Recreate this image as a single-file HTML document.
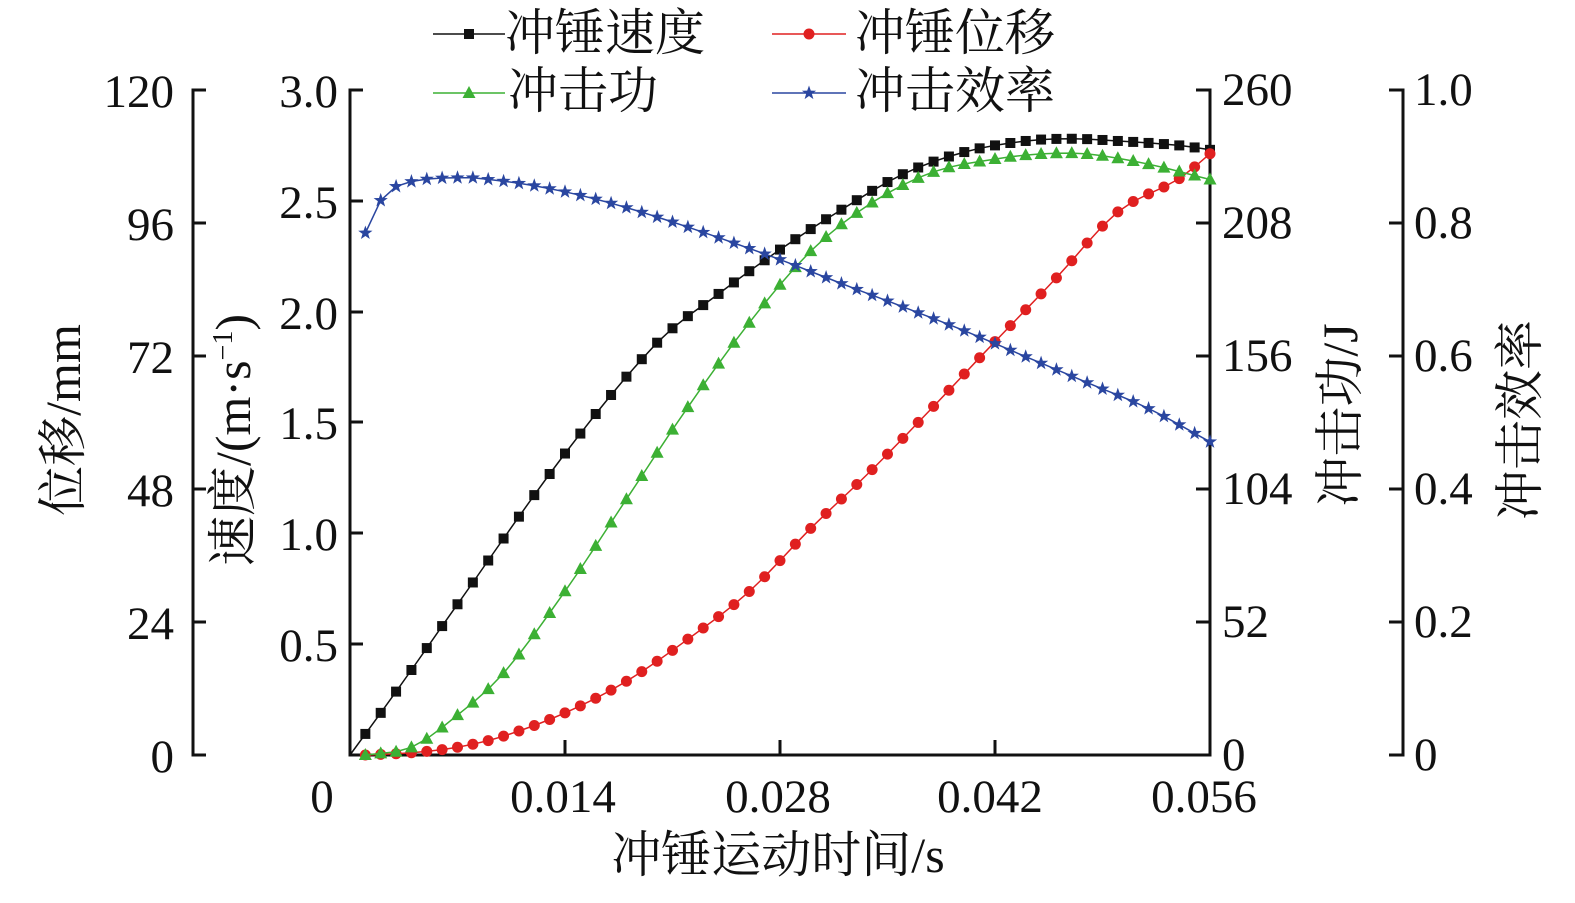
<!DOCTYPE html>
<html><head><meta charset="utf-8"><style>
html,body{margin:0;padding:0;background:#fff;}
svg text{font-family:"Liberation Serif","Noto Serif CJK SC","Noto Sans CJK SC",serif;fill:#111;}
</style></head><body>
<svg id="s" width="1575" height="898" xmlns="http://www.w3.org/2000/svg">
<g stroke="#111" stroke-width="3" fill="none">
<path d="M206 90H193V755H206 M193 223H206 M193 356H206 M193 489H206 M193 622H206"/>
<path d="M363 90H350V755H1210V90H1196 M350 201H363 M350 312H363 M350 422H363 M350 533H363 M350 644H363"/>
<path d="M1210 223H1196 M1210 356H1196 M1210 489H1196 M1210 622H1196"/>
<path d="M565 755V740 M780 755V740 M995 755V740"/>
<path d="M1389 90H1403V755H1389 M1403 223H1389 M1403 356H1389 M1403 489H1389 M1403 622H1389"/>
</g>
<g font-size="47" text-anchor="end">
<text x="174" y="107">120</text><text x="174" y="240">96</text><text x="174" y="373">72</text><text x="174" y="506">48</text><text x="174" y="639">24</text><text x="174" y="772">0</text>
<text x="338" y="107">3.0</text><text x="338" y="218">2.5</text><text x="338" y="329">2.0</text><text x="338" y="439">1.5</text><text x="338" y="550">1.0</text><text x="338" y="661">0.5</text>
</g>
<g font-size="47">
<text x="1222" y="105">260</text><text x="1222" y="238">208</text><text x="1222" y="371">156</text><text x="1222" y="504">104</text><text x="1222" y="637">52</text><text x="1222" y="770">0</text>
<text x="1414" y="105">1.0</text><text x="1414" y="238">0.8</text><text x="1414" y="371">0.6</text><text x="1414" y="504">0.4</text><text x="1414" y="637">0.2</text><text x="1414" y="770">0</text>
</g>
<g font-size="47" text-anchor="middle">
<text x="322" y="812">0</text><text x="563" y="812">0.014</text><text x="778" y="812">0.028</text><text x="990" y="812">0.042</text><text x="1204" y="812">0.056</text>
<text font-size="50" x="778" y="872">冲锤运动时间/s</text>
<text font-size="50" transform="translate(80,420) rotate(-90)">位移/mm</text>
<text font-size="50" transform="translate(250,440) rotate(-90)">速度/(m·s<tspan font-size="28" dy="-18">−1</tspan><tspan dy="18">)</tspan></text>
<text font-size="50" transform="translate(1357,415) rotate(-90)">冲击功/J</text>
<text font-size="50" transform="translate(1537,420) rotate(-90)">冲击效率</text>
</g>
<g font-size="50">
<text x="505" y="50">冲锤速度</text><text x="855" y="50">冲锤位移</text>
<text x="508" y="108">冲击功</text><text x="855" y="108">冲击效率</text>
</g>
<g id="data"></g>
</svg>
<script>
var X=function(t){return 350+t*15.357;};
function interp(k,t){for(var i=0;i<k.length-1;i++){if(t<=k[i+1][0]){var a=k[i],b=k[i+1],p0=k[Math.max(i-1,0)],p3=k[Math.min(i+2,k.length-1)];var u=(t-a[0])/(b[0]-a[0]);var m1=(b[1]-p0[1])/(b[0]-p0[0]),m2=(p3[1]-a[1])/(p3[0]-a[0]);var h=b[0]-a[0];var h00=2*u*u*u-3*u*u+1,h10=u*u*u-2*u*u+u,h01=-2*u*u*u+3*u*u,h11=u*u*u-u*u;return h00*a[1]+h10*h*m1+h01*b[1]+h11*h*m2;}}return k[k.length-1][1];}
var S=[
{c:"#111",m:"sq",y0:755,sc:221.67,k:[[0,0],[3.3,0.315],[7,0.68],[14,1.36],[20,1.86],[24,2.08],[28,2.28],[32,2.46],[36,2.62],[40,2.72],[44,2.77],[47,2.78],[50,2.77],[54,2.75],[56,2.73]],start:0},
{c:"#e02020",m:"ci",y0:755,sc:5.542,k:[[1,0],[4,0.4],[7,1.4],[10,3.4],[14,7.6],[18,13.3],[22,20.9],[26,29.5],[30,40.9],[34,51.5],[38,62.9],[42,74.6],[46,86.1],[50,98],[54,104],[56,108.5]],start:1},
{c:"#3cb034",m:"tr",y0:755,sc:2.5577,k:[[1,0],[4,3],[7,15.6],[10,32],[14,64],[18,100],[22,136],[26,169],[30,197],[34,216],[38,228],[42,233],[45,235],[48,235],[52,231],[56,225]],start:1},
{c:"#2a46a0",m:"st",y0:755,sc:665,k:[[1,0.785],[2,0.834],[3,0.855],[5,0.866],[7,0.868],[8,0.868],[12,0.856],[16,0.836],[20,0.809],[24,0.778],[28,0.745],[32,0.709],[36,0.674],[40,0.638],[44,0.599],[48,0.56],[52,0.521],[56,0.471]],start:1}];
var out="";
S.forEach(function(s){var pts=[];for(var t=s.start;t<=56;t++){pts.push([X(t),s.y0-interp(s.k,t)*s.sc]);}
out+='<polyline fill="none" stroke="'+s.c+'" stroke-width="1.5" points="'+pts.map(function(p){return p[0].toFixed(1)+","+p[1].toFixed(1)}).join(" ")+'"/>';
pts.forEach(function(p,i){if(s.m=="sq"&&i==0)return;out+=mk(s.m,p[0],p[1],s.c);});});
function mk(m,x,y,c){
if(m=="sq")return '<rect x="'+(x-5)+'" y="'+(y-5)+'" width="10" height="10" fill="'+c+'"/>';
if(m=="ci")return '<circle cx="'+x+'" cy="'+y+'" r="5.5" fill="'+c+'"/>';
if(m=="tr")return '<polygon points="'+x+','+(y-7)+' '+(x-6.5)+','+(y+5)+' '+(x+6.5)+','+(y+5)+'" fill="'+c+'"/>';
var s="";for(var i=0;i<10;i++){var r=i%2?3:7.5,a=-Math.PI/2+i*Math.PI/5;s+=(x+r*Math.cos(a)).toFixed(1)+","+(y+r*Math.sin(a)).toFixed(1)+" ";}
return '<polygon points="'+s+'" fill="'+c+'"/>';}
out+='<line x1="433" y1="34" x2="505" y2="34" stroke="#111" stroke-width="1.5"/>'+mk("sq",469,34,"#111");
out+='<line x1="772" y1="34" x2="846" y2="34" stroke="#e02020" stroke-width="1.5"/>'+mk("ci",809,34,"#e02020");
out+='<line x1="433" y1="93" x2="505" y2="93" stroke="#3cb034" stroke-width="1.5"/>'+mk("tr",469,93,"#3cb034");
out+='<line x1="772" y1="93" x2="846" y2="93" stroke="#2a46a0" stroke-width="1.5"/>'+mk("st",809,93,"#2a46a0");
document.getElementById("data").innerHTML=out;
</script>
</body></html>
